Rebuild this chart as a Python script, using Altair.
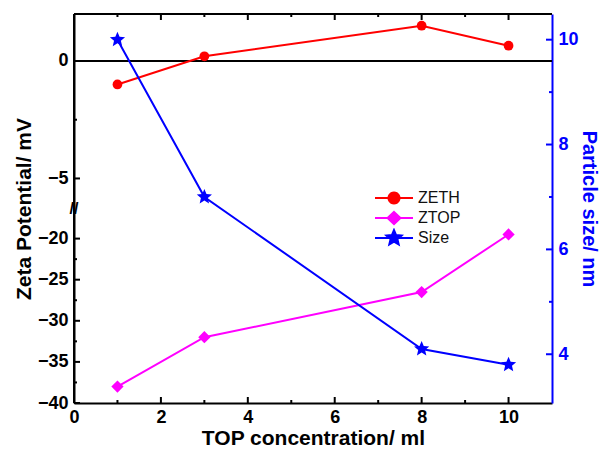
import math
import altair as alt
import pandas as pd

# ---------------- data ----------------
conc = [1, 3, 8, 10]
zeth = [-1.0, 0.2, 1.5, 0.65]
ztop = [-38.0, -32.0, -26.5, -19.5]
size_nm = [10.0, 7.0, 4.1, 3.8]

series = ["ZETH", "ZTOP", "Size"]
colors = ["#ff0000", "#ff00ff", "#0000ff"]

x_labels = [0, 2, 4, 6, 8, 10]
x_major = [2, 4, 6, 8, 10]
x_minor = [1, 3, 5, 7, 9]
zeta_labels = [-40, -35, -30, -25, -20, -5, 0]
zeta_minor = [-37.5, -32.5, -27.5, -22.5, -2.5]
size_labels = [4, 6, 8, 10]
size_minor = [5, 7, 9]
zero_line = [0]

X_MIN, X_MAX = 0, 11
Z_MIN, Z_MAX = -40, 2
S_MIN, S_MAX = 3.07, 10.49

df = pd.DataFrame({"conc": conc, "ZETH": zeth, "ZTOP": ztop, "Size": size_nm})
zero_df = pd.DataFrame({"z": zero_line})
legend_df = pd.DataFrame({"series": series})

# ---------------- style ----------------
FONT = "Liberation Sans"
W, H = 478, 389
BREAK_Y = 195
RED, MAG, BLUE = colors
MAJOR, MINOR = 6, 3


def poly(pts):
    return "M" + "L".join(f"{x:.3f},{y:.3f}" for x, y in pts) + "Z"


def star_pts(ro, ri):
    pts = []
    for k in range(10):
        a = -math.pi / 2 + k * math.pi / 5
        r = ro if k % 2 == 0 else ri
        pts.append((r * math.cos(a), r * math.sin(a)))
    return pts


def circle_pts(r, n=24):
    return [(r * math.cos(2 * math.pi * k / n), r * math.sin(2 * math.pi * k / n)) for k in range(n)]


STAR = poly(star_pts(1.0, 0.45))
LINE = "M-1,0L1,0"
legend_shapes = [
    LINE + poly(circle_pts(0.29)),
    LINE + poly([(0, -0.32), (0.34, 0), (0, 0.32), (-0.34, 0)]),
    LINE + poly(star_pts(0.42, 0.19)),
]

x_scale = alt.Scale(domain=[X_MIN, X_MAX], nice=False, zero=False)
zeta_scale = alt.Scale(domain=[Z_MIN, -16.4, -6.3, Z_MAX], range=[H, BREAK_Y, BREAK_Y, 0],
                       nice=False, zero=False)
size_scale = alt.Scale(domain=[S_MIN, S_MAX], nice=False, zero=False)


def main_axis(orient, title, values, color, label_pad, title_pad, title_size):
    return alt.Axis(orient=orient, values=values, ticks=False, domain=True, grid=False,
                    domainColor=color, domainWidth=2, minExtent=0,
                    labelColor=color, labelFont=FONT, labelFontSize=18,
                    labelFontWeight="bold", labelPadding=label_pad, labelFlush=False,
                    labelOverlap=False, title=title, titleColor=color, titleFont=FONT,
                    titleFontSize=title_size, titleFontWeight="bold", titlePadding=title_pad)


x_bottom = main_axis("bottom", "TOP concentration/ ml", x_labels, "black", 5, 1, 21)
y_left = main_axis("left", "Zeta Potential/ mV", zeta_labels, "black", 6, 3, 21)
y_right = main_axis("right", "Particle size/ nm", size_labels, BLUE, 6, 0, 20)


def Xc(axis=None):
    return alt.X("conc:Q", scale=x_scale, axis=axis)


def Yz(field, axis=None):
    return alt.Y(f"{field}:Q", scale=zeta_scale, axis=axis)


def Ys(axis=None):
    return alt.Y("Size:Q", scale=size_scale, axis=axis)


def ticks(values, side, length, color="black"):
    """Inward tick marks, placed at the frame edge through the chart's own scales."""
    d = pd.DataFrame({"v": values})
    if side in ("bottom", "top"):
        edge = Z_MIN if side == "bottom" else Z_MAX
        off = -length / 2 if side == "bottom" else length / 2
        return alt.Chart(d).mark_tick(orient="vertical", size=length, thickness=2, color=color,
                                      opacity=1, yOffset=off).encode(
            x=alt.X("v:Q", scale=x_scale, axis=None),
            y=alt.Y(datum=edge, type="quantitative", scale=zeta_scale, axis=None))
    if side == "left":
        return alt.Chart(d).mark_tick(orient="horizontal", size=length, thickness=2, color=color,
                                      opacity=1, xOffset=length / 2).encode(
            x=alt.X(datum=X_MIN, type="quantitative", scale=x_scale, axis=None),
            y=alt.Y("v:Q", scale=zeta_scale, axis=None))
    return alt.Chart(d).mark_tick(orient="horizontal", size=length, thickness=2, color=color,
                                  opacity=1, xOffset=-length / 2).encode(
        x=alt.X(datum=X_MAX, type="quantitative", scale=x_scale, axis=None),
        y=alt.Y("v:Q", scale=size_scale, axis=None))


tick_layers = [
    ticks(x_major, "bottom", MAJOR), ticks(x_minor, "bottom", MINOR),
    ticks(x_major, "top", MAJOR), ticks(x_minor, "top", MINOR),
    ticks(zeta_labels, "left", MAJOR), ticks(zeta_minor, "left", MINOR),
    ticks(size_labels, "right", MAJOR, BLUE), ticks(size_minor, "right", MINOR, BLUE),
]

# frame lines on the left and top, drawn through the scales
left_border = alt.Chart(zero_df).mark_rule(color="black", strokeWidth=2).encode(
    x=alt.X(datum=X_MIN, type="quantitative", scale=x_scale, axis=None))
top_border = alt.Chart(zero_df).mark_rule(color="black", strokeWidth=2).encode(
    y=alt.Y(datum=Z_MAX, type="quantitative", scale=zeta_scale, axis=None))

base = alt.Chart(df)

zero_rule = alt.Chart(zero_df).mark_rule(color="black", strokeWidth=2).encode(y=Yz("z", y_left))

zeth_line = base.mark_line(color=RED, strokeWidth=2).encode(x=Xc(x_bottom), y=Yz("ZETH"))
zeth_pts = base.mark_point(shape="circle", filled=True, size=95, color=RED, opacity=1).encode(
    x=Xc(), y=Yz("ZETH"))
ztop_line = base.mark_line(color=MAG, strokeWidth=2).encode(x=Xc(), y=Yz("ZTOP"))
ztop_pts = base.mark_point(shape="diamond", filled=True, size=150, color=MAG, opacity=1).encode(
    x=Xc(), y=Yz("ZTOP"))

brk = alt.Chart(zero_df).mark_text(text="//", font=FONT, fontSize=16, fontWeight="bold",
                                   color="black").encode(
    x=alt.X(datum=X_MIN, type="quantitative", scale=x_scale, axis=None),
    y=alt.Y(datum=-11, type="quantitative", scale=zeta_scale, axis=None))

leg = alt.Legend(title=None, orient="none", legendX=300, legendY=174, symbolSize=1444,
                 symbolStrokeWidth=2, symbolOpacity=1, labelFont=FONT, labelFontSize=16,
                 labelColor="#111111", labelOffset=4, clipHeight=20, rowPadding=0, padding=0)
legend_layer = alt.Chart(legend_df).transform_filter("false").mark_point(filled=True, opacity=1).encode(
    fill=alt.Fill("series:N", scale=alt.Scale(domain=series, range=colors), legend=leg),
    stroke=alt.Stroke("series:N", scale=alt.Scale(domain=series, range=colors), legend=leg),
    shape=alt.Shape("series:N", scale=alt.Scale(domain=series, range=legend_shapes), legend=leg),
)

size_line = base.mark_line(color=BLUE, strokeWidth=2).encode(x=Xc(), y=Ys(y_right))
size_pts = base.mark_point(shape=STAR, filled=True, size=256, color=BLUE, opacity=1).encode(
    x=Xc(), y=Ys())

chart = (
    alt.layer(zero_rule, zeth_line, zeth_pts, ztop_line, ztop_pts, legend_layer,
              size_line, size_pts, left_border, top_border, *tick_layers, brk)
    .resolve_scale(y="independent")
    .resolve_axis(x="independent", y="independent")
    .properties(width=W, height=H, padding={"left": 5, "top": 5, "right": 0, "bottom": 0},
                background="white")
    .configure_view(stroke=None)
)

chart.save("out.html", embed_options={"renderer": "svg", "actions": False})
